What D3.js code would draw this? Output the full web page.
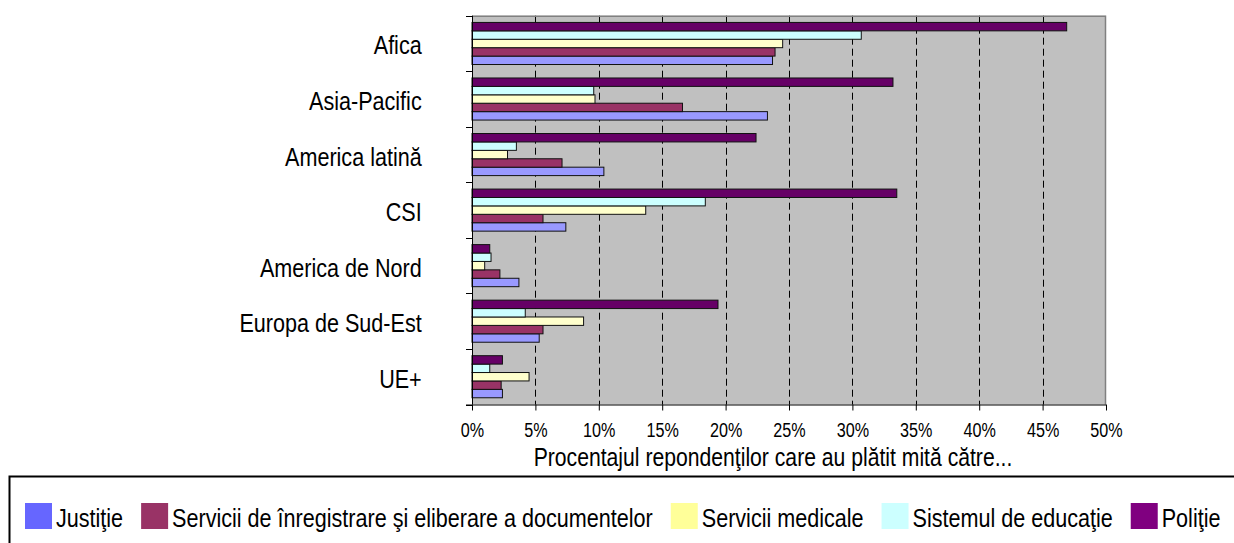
<!DOCTYPE html>
<html>
<head>
  <meta charset="utf-8">
  <title>Procentajul repondentilor care au platit mita</title>
  <script src="https://d3js.org/d3.v7.min.js"></script>
  <style>
    body { margin: 0; background: #fff; }
    text { font-family: "Liberation Sans", Arial, sans-serif; fill: #000; }
  </style>
</head>
<body>
  <div id="chart"></div>

  <script>
    // categories, top to bottom
    const categories = ["Afica", "Asia-Pacific", "America latină", "CSI", "America de Nord", "Europa de Sud-Est", "UE+"];

    const seriesNames = ["Justiţie", "Servicii de înregistrare şi eliberare a documentelor", "Servicii medicale", "Sistemul de educaţie", "Poliţie"];

    // percent values, same order as categories
    const justitie     = [23.7, 23.3, 10.4, 7.4, 3.7, 5.3, 2.4];
    const inregistrare = [23.9, 16.6, 7.1, 5.6, 2.2, 5.6, 2.3];
    const medicale     = [24.5, 9.7, 2.8, 13.7, 1.0, 8.8, 4.5];
    const educatie     = [30.7, 9.6, 3.5, 18.4, 1.5, 4.2, 1.4];
    const politie      = [46.9, 33.2, 22.4, 33.5, 1.4, 19.4, 2.4];

    const xTicks = [0, 5, 10, 15, 20, 25, 30, 35, 40, 45, 50];

    const barColors    = ["#9999FF", "#993366", "#FFFFCC", "#CCFFFF", "#660066"];
    const legendColors = ["#6666FF", "#993366", "#FFFF99", "#CCFFFF", "#800080"];

    const seriesValues = [justitie, inregistrare, medicale, educatie, politie];

    const W = 1234, H = 543;
    const plot = { left: 472, right: 1106, top: 15.7, bottom: 404.5 };
    const sx = 0.83; // the original text is horizontally narrow

    const svg = d3.select("#chart").append("svg")
      .attr("width", W)
      .attr("height", H);

    const x = d3.scaleLinear().domain([0, 50]).range([plot.left, plot.right]);

    const y0 = d3.scaleBand()
      .domain(categories)
      .range([plot.top, plot.bottom]);

    // inside a group Politie is on top, Justitie at the bottom
    const y1 = d3.scaleBand()
      .domain(seriesNames.slice().reverse())
      .range([0, y0.bandwidth()])
      .paddingOuter(0.8);

    // narrow text helper: keeps x where it should be after scaling
    function narrow(sel, px) {
      sel.attr("x", px / sx).attr("transform", `scale(${sx},1)`);
    }

    // plot background
    svg.append("rect")
      .attr("x", plot.left)
      .attr("y", plot.top)
      .attr("width", plot.right - plot.left)
      .attr("height", plot.bottom - plot.top)
      .attr("fill", "#C0C0C0");

    // dashed gridlines
    svg.append("g")
      .selectAll("line")
      .data(xTicks.slice(1, -1))
      .enter().append("line")
      .attr("x1", d => Math.round(x(d)) + 0.5)
      .attr("x2", d => Math.round(x(d)) + 0.5)
      .attr("y1", plot.top)
      .attr("y2", plot.bottom)
      .attr("stroke", "#000")
      .attr("stroke-width", 1)
      .attr("stroke-dasharray", "7,4");

    // plot border top + right
    svg.append("path")
      .attr("d", `M${plot.left},${plot.top + 0.5}H${plot.right - 0.5}V${plot.bottom}`)
      .attr("fill", "none")
      .attr("stroke", "#808080")
      .attr("stroke-width", 1.5);

    // bars
    const groups = svg.append("g")
      .selectAll("g")
      .data(categories)
      .enter().append("g")
      .attr("transform", d => `translate(0,${y0(d)})`);

    groups.selectAll("rect")
      .data((c, ci) => seriesNames.map((s, si) => ({ s, si, v: seriesValues[si][ci] })))
      .enter().append("rect")
      .attr("x", x(0))
      .attr("y", d => y1(d.s))
      .attr("width", d => x(d.v) - x(0))
      .attr("height", y1.bandwidth())
      .attr("fill", d => barColors[d.si])
      .attr("stroke", "#111")
      .attr("stroke-width", 1);

    // y axis
    const yAxis = svg.append("g")
      .attr("transform", `translate(${plot.left},0)`);
    yAxis.append("line")
      .attr("x1", 0.5).attr("x2", 0.5)
      .attr("y1", plot.top).attr("y2", plot.bottom)
      .attr("stroke", "#000");
    const yTickPos = categories.map(c => y0(c)).concat([plot.bottom]);
    yAxis.selectAll("line.tick")
      .data(yTickPos)
      .enter().append("line")
      .attr("class", "tick")
      .attr("x1", -6).attr("x2", 0.5)
      .attr("y1", d => Math.round(d) + 0.5)
      .attr("y2", d => Math.round(d) + 0.5)
      .attr("stroke", "#000");

    svg.append("g")
      .selectAll("text")
      .data(categories)
      .enter().append("text")
      .attr("y", d => y0(d) + y0.bandwidth() / 2 + 11)
      .attr("text-anchor", "end")
      .attr("font-size", 26)
      .text(d => d)
      .call(narrow, 421.7);

    // x axis
    const xAxis = d3.axisBottom(x)
      .tickValues(xTicks)
      .tickSize(6)
      .tickFormat(d => d + "%");

    const xg = svg.append("g")
      .attr("transform", `translate(0,${plot.bottom})`)
      .call(xAxis);
    xg.select(".domain").attr("stroke", "#000").attr("d", `M${plot.left - 6},0.5H${plot.right}`);
    xg.selectAll(".tick line").attr("stroke", "#000");
    xg.selectAll(".tick text")
      .attr("font-family", null)
      .attr("font-size", 19.5)
      .attr("dy", null)
      .attr("y", 33)
      .each(function (d) {
        d3.select(this).call(narrow, 0);
      });

    svg.append("text")
      .attr("y", 466)
      .attr("text-anchor", "middle")
      .attr("font-size", 25.5)
      .text("Procentajul repondenţilor care au plătit mită către...")
      .call(narrow, 773);

    // legend
    svg.append("rect")
      .attr("x", 9.5)
      .attr("y", 476.5)
      .attr("width", 1300)
      .attr("height", 120)
      .attr("fill", "#fff")
      .attr("stroke", "#000")
      .attr("stroke-width", 2);

    const legend = svg.append("g");
    let lx = 25;
    seriesNames.forEach((name, i) => {
      legend.append("rect")
        .attr("x", lx)
        .attr("y", 503)
        .attr("width", 27)
        .attr("height", 26)
        .attr("fill", legendColors[i]);
      const t = legend.append("text")
        .attr("y", 527)
        .attr("font-size", 26)
        .text(name)
        .call(narrow, lx + 31);
      lx += 31 + t.node().getComputedTextLength() * sx + 18;
    });
  </script>
</body>
</html>
